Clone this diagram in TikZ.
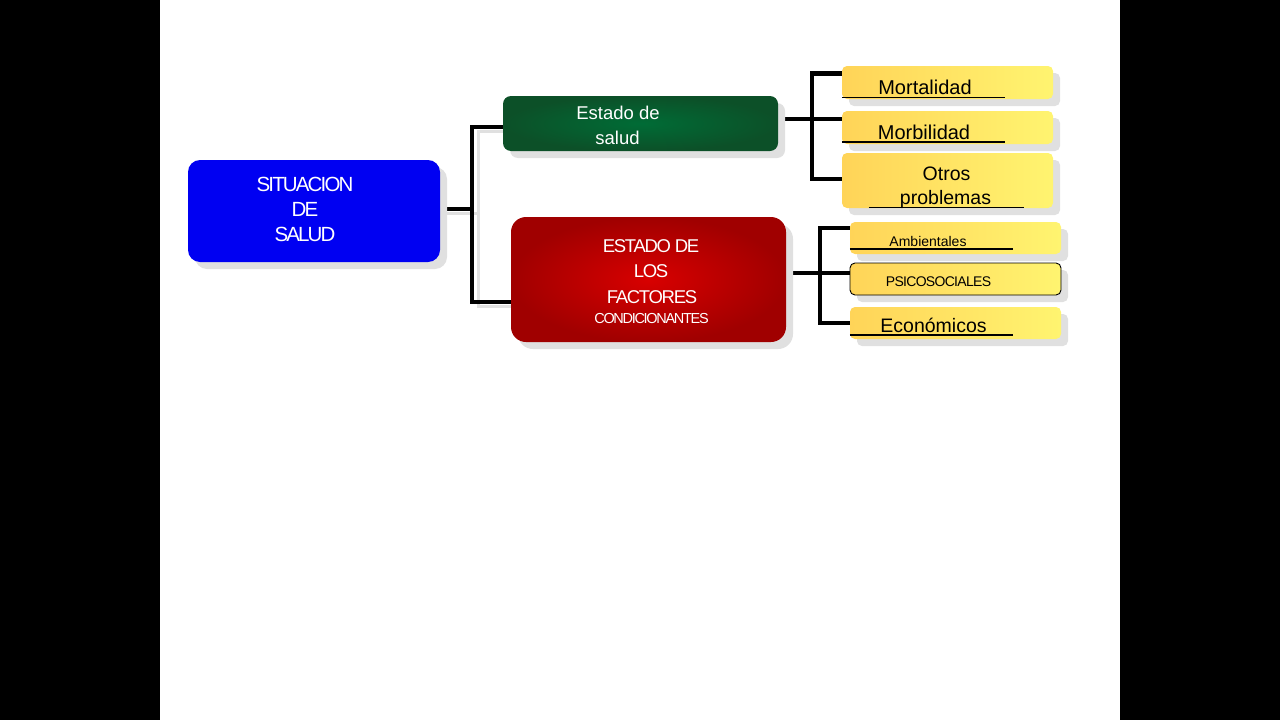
\documentclass[tikz,border=0pt]{standalone}
\usepackage{fontspec}
\setmainfont{Liberation Sans}
\newfontfamily\sitfont[LetterSpace=-9]{Liberation Sans}
\newfontfamily\facfont[LetterSpace=-7]{Liberation Sans}
\newfontfamily\psifont[LetterSpace=-5]{Liberation Sans}
\usetikzlibrary{shadows,backgrounds}
\definecolor{sitblue}{HTML}{0000F2}
\definecolor{grnIn}{HTML}{006C36}
\definecolor{grnOut}{HTML}{0C5028}
\definecolor{redIn}{HTML}{D80000}
\definecolor{redOut}{HTML}{A00000}
\definecolor{yelL}{HTML}{FFD458}
\definecolor{yelR}{HTML}{FFF470}
\definecolor{shd}{HTML}{E0E0E0}
\begin{document}
\begin{tikzpicture}[x=1pt,y=-1pt,
  box/.style={draw=none, inner sep=0pt,
    general shadow={fill=shd, shadow xshift=7pt, shadow yshift=-7pt}},
  ybox/.style={box, rounded corners=5pt, minimum width=211pt,
    left color=yelL, right color=yelR},
  txt/.style={anchor=base, inner sep=0pt},
  conn/.style={line width=4.2pt, black},
  connshadow/.style={line width=3pt, shd},
  ul/.style={line width=1.5pt, black}]
\useasboundingbox (0,0) rectangle (1280,720);

% boxes
\node[box, minimum width=252pt, minimum height=102pt, rounded corners=12pt,
  fill=sitblue] (sit) at (314,211) {};
\node[box, minimum width=275pt, minimum height=55pt, rounded corners=8pt,
  inner color=grnIn, outer color=grnOut] (est) at (640.5,123.5) {};
\node[box, minimum width=275pt, minimum height=125pt, rounded corners=15pt,
  inner color=redIn, outer color=redOut] (fac) at (648.5,279.5) {};
\node[ybox, minimum height=33pt] (mort) at (947.5,82.5) {};
\node[ybox, minimum height=33pt] (morb) at (947.5,127.5) {};
\node[ybox, minimum height=55pt] (otros) at (947.5,180.5) {};
\node[ybox, minimum height=32pt] (amb) at (955.5,238) {};
\node[ybox, minimum height=32pt, draw=black, line width=0.9pt] (psi) at (955.5,279) {};
\node[ybox, minimum height=32pt] (eco) at (955.5,323) {};

% texts
\node[txt, white, font=\sitfont\fontsize{20.5}{24}\selectfont] (t1) at (305,191.5) {SITUACION};
\node[txt, white, font=\sitfont\fontsize{20.5}{24}\selectfont] (t2) at (305,216.5) {DE};
\node[txt, white, font=\sitfont\fontsize{20.5}{24}\selectfont] (t3) at (305,241.5) {SALUD};

\node[txt, white, font=\fontsize{18.5}{22}\selectfont] (t4) at (618,119.5) {Estado de};
\node[txt, white, font=\fontsize{18.5}{22}\selectfont] (t5) at (617.5,144.5) {salud};

\node[txt, white, font=\facfont\fontsize{18.5}{22}\selectfont] (t6) at (651,252.5) {ESTADO DE};
\node[txt, white, font=\facfont\fontsize{18.5}{22}\selectfont] (t7) at (651,277.5) {LOS};
\node[txt, white, font=\facfont\fontsize{18.5}{22}\selectfont] (t8) at (652,303) {FACTORES};
\node[txt, white, font=\sitfont\fontsize{14.5}{18}\selectfont] (t9) at (651.5,323) {CONDICIONANTES};

\node[txt, font=\fontsize{20}{24}\selectfont] (t10) at (925,94) {Mortalidad};
\node[txt, font=\fontsize{20}{24}\selectfont] (t11) at (924,139) {Morbilidad};
\node[txt, font=\fontsize{19.5}{23}\selectfont] (t12) at (946.5,180) {Otros};
\node[txt, font=\fontsize{19.5}{23}\selectfont] (t13) at (945.5,204) {problemas};
\node[txt, font=\fontsize{14}{17}\selectfont] (t14) at (928,246) {Ambientales};
\node[txt, font=\psifont\fontsize{14}{17}\selectfont] (t15) at (938.5,286) {PSICOSOCIALES};
\node[txt, font=\fontsize{19.5}{23}\selectfont] (t16) at (933.5,332) {Económicos};

% underlines
\draw[ul] ([yshift=1.5pt]mort.south west) -- ++(163,0);
\draw[ul] ([yshift=2pt]morb.south west) -- ++(163,0);
\draw[ul] ([xshift=27pt,yshift=0.5pt]otros.south west) -- ++(155,0);
\draw[ul] ([yshift=5pt]amb.south west) -- ++(163,0);
\draw[ul] ([yshift=4pt]eco.south west) -- ++(163,0);

% junctions
\coordinate (j1) at (472,209);
\coordinate (j2) at (812,119);
\coordinate (j3) at (820,273);

\begin{pgfonlayer}{background}
  \fill[black] (0,0) rectangle (1280,720);
  \fill[white] (160,0) rectangle (1120,720);
  \begin{scope}[transform canvas={xshift=6pt,yshift=-4.5pt}]
    \draw[connshadow] ([yshift=2pt]sit.east) -- (j1);
    \draw[connshadow] ([yshift=-3.5pt]est.west) -| (j1) |- ([yshift=-22.5pt]fac.west);
  \end{scope}
  \draw[conn] ([yshift=2pt]sit.east) -- (j1);
  \draw[conn] ([yshift=-3.5pt]est.west) -| (j1) |- ([yshift=-22.5pt]fac.west);
  \draw[conn] ([yshift=4.5pt]est.east) -- ([yshift=8.5pt]morb.west);
  \draw[conn] ([yshift=9pt]mort.west) -| (j2) |- ([yshift=1.5pt]otros.west);
  \draw[conn] ([yshift=6.5pt]fac.east) -- ([yshift=6pt]psi.west);
  \draw[conn] ([yshift=10pt]amb.west) -| (j3) |- (eco.west);
\end{pgfonlayer}
\end{tikzpicture}
\end{document}
